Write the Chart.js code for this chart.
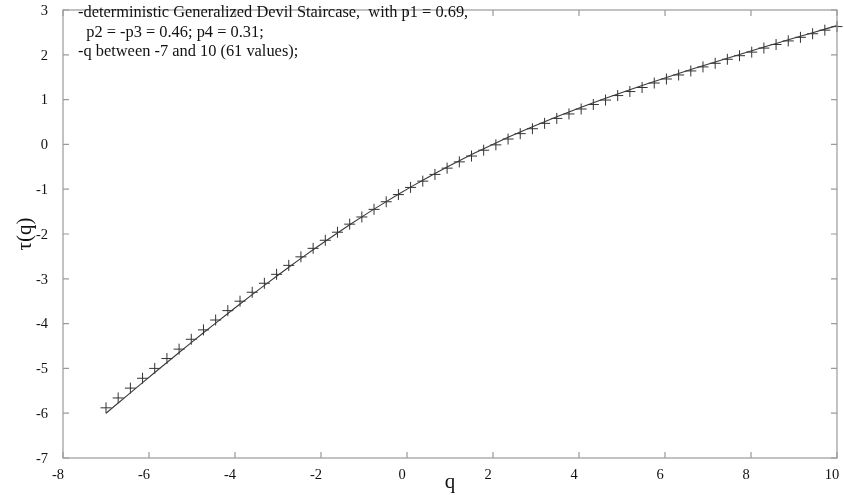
<!DOCTYPE html>
<html>
<head>
<meta charset="utf-8">
<script src="https://cdn.jsdelivr.net/npm/chart.js@4.4.1/dist/chart.umd.min.js"></script>
<style>
html,body{margin:0;padding:0;background:#fff;}
#wrap{width:844px;height:495px;position:relative;}
</style>
</head>
<body>
<div id="wrap"><canvas id="c" width="844" height="495"></canvas></div>
<script>
// q values (61 values between -7 and 10)
const qValues = [-7.0,-6.717,-6.433,-6.15,-5.867,-5.583,-5.3,-5.017,-4.733,-4.45,-4.167,-3.883,-3.6,-3.317,-3.033,-2.75,-2.467,-2.183,-1.9,-1.617,-1.333,-1.05,-0.767,-0.483,-0.2,0.083,0.367,0.65,0.933,1.217,1.5,1.783,2.067,2.35,2.633,2.917,3.2,3.483,3.767,4.05,4.333,4.617,4.9,5.183,5.467,5.75,6.033,6.317,6.6,6.883,7.167,7.45,7.733,8.017,8.3,8.583,8.867,9.15,9.433,9.717,10.0];
// theoretical tau(q) (solid line)
const tauTheory = [-6.002,-5.773,-5.545,-5.318,-5.092,-4.868,-4.645,-4.424,-4.205,-3.989,-3.774,-3.562,-3.352,-3.146,-2.942,-2.742,-2.545,-2.352,-2.162,-1.976,-1.795,-1.618,-1.445,-1.277,-1.113,-0.954,-0.799,-0.649,-0.504,-0.363,-0.227,-0.095,0.033,0.157,0.277,0.394,0.507,0.617,0.724,0.828,0.929,1.029,1.126,1.221,1.313,1.405,1.495,1.583,1.670,1.756,1.841,1.925,2.008,2.091,2.172,2.254,2.334,2.414,2.494,2.573,2.651];
// estimated tau(q) (+ markers)
const tauEstimated = [-5.88,-5.66,-5.44,-5.22,-5.00,-4.78,-4.57,-4.35,-4.14,-3.92,-3.71,-3.50,-3.30,-3.10,-2.90,-2.70,-2.51,-2.32,-2.14,-1.96,-1.78,-1.62,-1.45,-1.28,-1.12,-0.96,-0.82,-0.67,-0.53,-0.39,-0.26,-0.13,-0.01,0.12,0.24,0.35,0.47,0.58,0.68,0.79,0.89,0.99,1.09,1.18,1.27,1.37,1.46,1.55,1.64,1.73,1.81,1.90,1.98,2.06,2.15,2.23,2.31,2.39,2.47,2.55,2.63];
const xTicks = [-8,-6,-4,-2,0,2,4,6,8,10];
const yTicks = [-7,-6,-5,-4,-3,-2,-1,0,1,2,3];
const noteLines = [
  "-deterministic Generalized Devil Staircase,  with p1 = 0.69,",
  "  p2 = -p3 = 0.46; p4 = 0.31;",
  "-q between -7 and 10 (61 values);"
];

const serif = "'Liberation Serif','DejaVu Serif',serif";
const frameColor = '#9a9a9a';

const framePlugin = {
  id: 'frame',
  afterDraw(chart) {
    const {ctx, chartArea: a, scales} = chart;
    ctx.save();
    ctx.strokeStyle = frameColor;
    ctx.lineWidth = 1.2;
    ctx.strokeRect(a.left, a.top, a.right - a.left, a.bottom - a.top);
    const tl = 6;
    ctx.beginPath();
    xTicks.forEach(v => {
      const x = scales.x.getPixelForValue(v);
      ctx.moveTo(x, a.bottom); ctx.lineTo(x, a.bottom - tl);
      ctx.moveTo(x, a.top); ctx.lineTo(x, a.top + tl);
    });
    yTicks.forEach(v => {
      const y = scales.y.getPixelForValue(v);
      ctx.moveTo(a.left, y); ctx.lineTo(a.left + tl, y);
      ctx.moveTo(a.right, y); ctx.lineTo(a.right - tl, y);
    });
    ctx.stroke();
    ctx.fillStyle = '#111';
    ctx.font = "16.4px " + serif;
    ctx.textBaseline = 'middle';
    ctx.textAlign = 'left';
    noteLines.forEach((t, i) => ctx.fillText(t, 78, 13 + i * 19.5));
    ctx.restore();
  }
};

new Chart(document.getElementById('c'), {
  type: 'scatter',
  data: {
    datasets: [
      {
        label: 'theory',
        data: qValues.map((q, i) => ({x: q, y: tauTheory[i]})),
        showLine: true,
        borderColor: '#3a3a3a',
        borderWidth: 1.1,
        pointRadius: 0,
        tension: 0,
        clip: false
      },
      {
        label: 'estimated',
        data: qValues.map((q, i) => ({x: q, y: tauEstimated[i]})),
        showLine: false,
        pointStyle: 'cross',
        pointRadius: 5.5,
        borderColor: '#333',
        borderWidth: 1,
        backgroundColor: '#333',
        clip: false
      }
    ]
  },
  options: {
    responsive: false,
    animation: false,
    events: [],
    layout: {padding: {top: 10, right: 7, left: 0, bottom: 0}},
    plugins: {legend: {display: false}, tooltip: {enabled: false}},
    scales: {
      x: {
        type: 'linear', min: -8, max: 10,
        afterFit(s) { s.height = 37; s.paddingLeft = 0; s.paddingRight = 0; },
        afterBuildTicks(s) { s.ticks = xTicks.map(v => ({value: v})); },
        grid: {display: false, drawTicks: false},
        border: {display: false},
        ticks: {color: '#111', font: {family: serif, size: 14.5}, padding: 8, labelOffset: -5, maxRotation: 0, autoSkip: false},
        title: {display: true, text: 'q', color: '#111', font: {family: serif, size: 21}, padding: {top: 0, bottom: 0}}
      },
      y: {
        type: 'linear', min: -7, max: 3,
        afterFit(s) { s.width = 63; s.paddingTop = 0; s.paddingBottom = 0; },
        afterBuildTicks(s) { s.ticks = yTicks.map(v => ({value: v})); },
        grid: {display: false, drawTicks: false},
        border: {display: false},
        ticks: {color: '#111', font: {family: serif, size: 14.5}, padding: 15, labelOffset: 1, autoSkip: false},
        title: {display: true, text: 'τ(q)', color: '#111', font: {family: serif, size: 21}, padding: {top: 13, bottom: 0}}
      }
    }
  },
  plugins: [framePlugin]
});
</script>
</body>
</html>
